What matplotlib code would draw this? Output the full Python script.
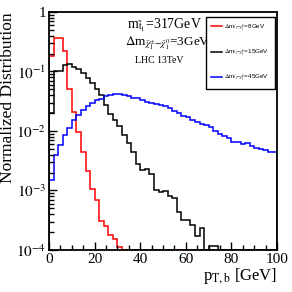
import numpy as np
import matplotlib
matplotlib.use("Agg")
import matplotlib.pyplot as plt
from matplotlib.ticker import FixedLocator, FixedFormatter, LogLocator, MultipleLocator, NullFormatter

plt.rcParams['font.family'] = 'Liberation Serif'
plt.rcParams['mathtext.fontset'] = 'stix'

# bin edges, 2 GeV wide
edges = np.arange(0, 102, 2)

# dm = 8 GeV
red = [0.18, 0.36, 0.36, 0.22, 0.05, 0.021, 0.0095, 0.0045, 0.0021, 0.00105,
       0.0007, 0.00031, 0.00025, 0.00018, 0.00015, 0.00011] + [0] * 34

# dm = 15 GeV
black = [0.02, 0.1, 0.1, 0.128, 0.134, 0.12, 0.109, 0.093, 0.077, 0.063,
         0.05, 0.04, 0.027, 0.019, 0.015, 0.012, 0.0085, 0.0062, 0.0045, 0.0028,
         0.0022, 0.0023, 0.0019, 0.00102, 0.00095, 0.00098, 0.00081, 0.00074, 0.00044, 0.00032,
         0.00032, 0.00026, 0.00017, 0.00023, 0, 0.000117, 0.000117] + [0] * 13

# dm = 45 GeV
blue = [0.0015, 0.0039, 0.0058, 0.0086, 0.0112, 0.015, 0.0185, 0.0222, 0.026, 0.029,
        0.033, 0.035, 0.038, 0.040, 0.042, 0.042, 0.040, 0.038, 0.0365, 0.0355,
        0.033, 0.031, 0.030, 0.028, 0.027, 0.026, 0.0245, 0.0215, 0.020, 0.018,
        0.017, 0.0155, 0.014, 0.013, 0.0125, 0.0115, 0.0098, 0.0089, 0.0081, 0.0076,
        0.0066, 0.0064, 0.0061, 0.0063, 0.0055, 0.0052, 0.0049, 0.0047, 0.0045, 0.0044]

labels = [r'$\Delta$m$_{\tilde{t}_1\mathrm{-}\tilde{\chi}_1^0}$=8GeV',
          r'$\Delta$m$_{\tilde{t}_1\mathrm{-}\tilde{\chi}_1^0}$=15GeV',
          r'$\Delta$m$_{\tilde{t}_1\mathrm{-}\tilde{\chi}_1^0}$=45GeV']
colors = ['red', 'black', 'blue']

ymin, ymax = 1e-4, 1.0

fig = plt.figure(figsize=(2.92, 2.92), dpi=100)
ax = fig.add_axes([0.168, 0.144, 0.781, 0.815])

for vals, c, lab in zip([red, black, blue], colors, labels):
    # empty bins sit on the axis floor, like ROOT draws them
    v = np.clip(np.array(vals, dtype=float), ymin, None)
    ax.stairs(v, edges, baseline=ymin, color=c, lw=1.1, label=lab)

ax.set_yscale('log')
ax.set_xlim(0, 100)
ax.set_ylim(ymin, ymax)

ax.yaxis.set_major_locator(FixedLocator([1e-4, 1e-3, 1e-2, 1e-1, 1]))
ax.yaxis.set_major_formatter(FixedFormatter([r'$10^{-4}$', r'$10^{-3}$', r'$10^{-2}$', r'$10^{-1}$', '1']))
ax.yaxis.set_minor_locator(LogLocator(base=10, subs=np.arange(2, 10)))
ax.yaxis.set_minor_formatter(NullFormatter())
ax.xaxis.set_major_locator(MultipleLocator(20))
ax.xaxis.set_minor_locator(MultipleLocator(5))

ax.tick_params(which='both', direction='in', top=False, right=False, labelsize=11, pad=2)
ax.tick_params(which='major', length=6, width=1.0)
ax.tick_params(which='minor', length=3.5, width=1.0)
for s in ax.spines.values():
    s.set_linewidth(1.3)

ax.set_ylabel('Normalized Distribution', fontsize=12.5, loc='top', labelpad=0)
ax.set_xlabel(r'p$_{\mathrm{T,b}}$ [GeV]', fontsize=12, loc='right', labelpad=0)

ax.text(0.34, 0.98, r'm$_{\tilde{\mathrm{t}}_1}$=317GeV', transform=ax.transAxes,
        fontsize=10, va='top')
ax.text(0.335, 0.905, r'$\Delta$m$_{\tilde{\chi}_1^{\pm}\mathrm{-}\tilde{\chi}_1^0}$=3GeV',
        transform=ax.transAxes, fontsize=9.5, va='top')
ax.text(0.375, 0.815, 'LHC 13TeV', transform=ax.transAxes, fontsize=7, va='top')

leg = ax.legend(loc='upper right', bbox_to_anchor=(0.991, 0.979),
                prop={'family': 'Liberation Sans', 'size': 4.5},
                frameon=True, fancybox=False, edgecolor='black', framealpha=1,
                handlelength=1.7, handletextpad=0.4, labelspacing=2.4, borderpad=0.9,
                borderaxespad=0)
leg.get_frame().set_linewidth(1.0)

fig.savefig('out.png', dpi=100)
